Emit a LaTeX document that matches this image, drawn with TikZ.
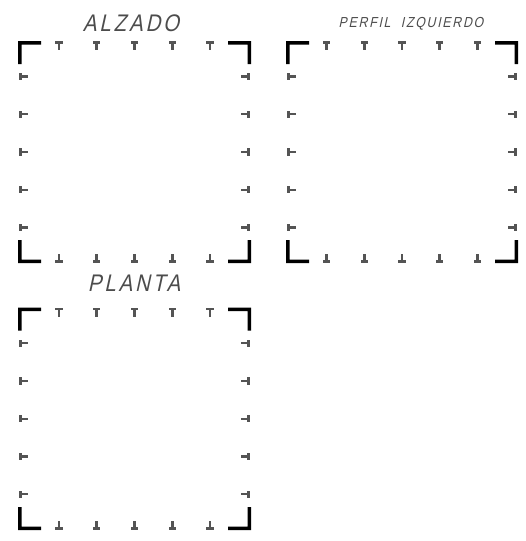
\documentclass[tikz,border=0pt]{standalone}
\usepackage{fontspec}
\setmainfont{Liberation Sans}
\newfontfamily\cadfont{Liberation Sans}[FakeSlant=0.22, FakeStretch=0.85, LetterSpace=12]
\definecolor{tickgray}{rgb}{0.33,0.33,0.33}
\definecolor{txtgray}{rgb}{0.30,0.30,0.30}
\tikzset{
  cornerfill/.style={fill=black},
  tickfill/.style={fill=tickgray},
  viewlabel/.style={anchor=base, inner sep=0pt, text=txtgray}
}
% #1=L, #2=T, #3=R, #4=B
\newcommand\drawviewframe[4]{%
  \pgfmathsetmacro\cxf{(#1+#3)/2}%
  \pgfmathsetmacro\cyf{(#2+#4)/2}%
  % corner brackets
  \fill[cornerfill] (#1,#2) -- ++(23,0) -- ++(0,3.5) -- ++(-19.5,0) -- ++(0,19.5) -- ++(-3.5,0) -- cycle;
  \fill[cornerfill] (#3,#2) -- ++(-23,0) -- ++(0,3.5) -- ++(19.5,0) -- ++(0,19.5) -- ++(3.5,0) -- cycle;
  \fill[cornerfill] (#1,#4) -- ++(23,0) -- ++(0,-3.5) -- ++(-19.5,0) -- ++(0,-19.5) -- ++(-3.5,0) -- cycle;
  \fill[cornerfill] (#3,#4) -- ++(-23,0) -- ++(0,-3.5) -- ++(19.5,0) -- ++(0,-19.5) -- ++(3.5,0) -- cycle;
  % ticks
  \foreach \k in {-2,...,2}{
    \pgfmathsetmacro\tx{\cxf+\k*37.75}
    \pgfmathsetmacro\ty{\cyf+\k*37.75}
    % top
    \fill[tickfill] (\tx-3.7,#2) rectangle (\tx+3.7,#2+2.7);
    \fill[tickfill] (\tx-1.3,#2) rectangle (\tx+1.3,#2+9);
    % bottom
    \fill[tickfill] (\tx-3.7,#4) rectangle (\tx+3.7,#4-2.7);
    \fill[tickfill] (\tx-1.3,#4) rectangle (\tx+1.3,#4-9);
    % left
    \fill[tickfill] (#1+1,\ty-3.7) rectangle (#1+3.7,\ty+3.7);
    \fill[tickfill] (#1+1,\ty-1.2) rectangle (#1+10,\ty+1.2);
    % right
    \fill[tickfill] (#3-1,\ty-3.7) rectangle (#3-3.7,\ty+3.7);
    \fill[tickfill] (#3-1,\ty-1.2) rectangle (#3-10,\ty+1.2);
  }%
}
\begin{document}
\begin{tikzpicture}[x=1pt,y=-1pt]
\useasboundingbox (0,0) rectangle (525,541);
\drawviewframe{18}{41}{251}{263}
\drawviewframe{286}{41}{518}{263}
\drawviewframe{18}{307.5}{251}{530}
\node[viewlabel, font=\cadfont\fontsize{24}{24}\selectfont] (alzado) at (131,31) {ALZADO};
\node[viewlabel, font=\cadfont\fontsize{14.5}{14.5}\selectfont] (perfil) at (411,27) {PERFIL\ \ IZQUIERDO};
\node[viewlabel, font=\cadfont\fontsize{24}{24}\selectfont] (planta) at (134,291) {PLANTA};
\end{tikzpicture}
\end{document}
